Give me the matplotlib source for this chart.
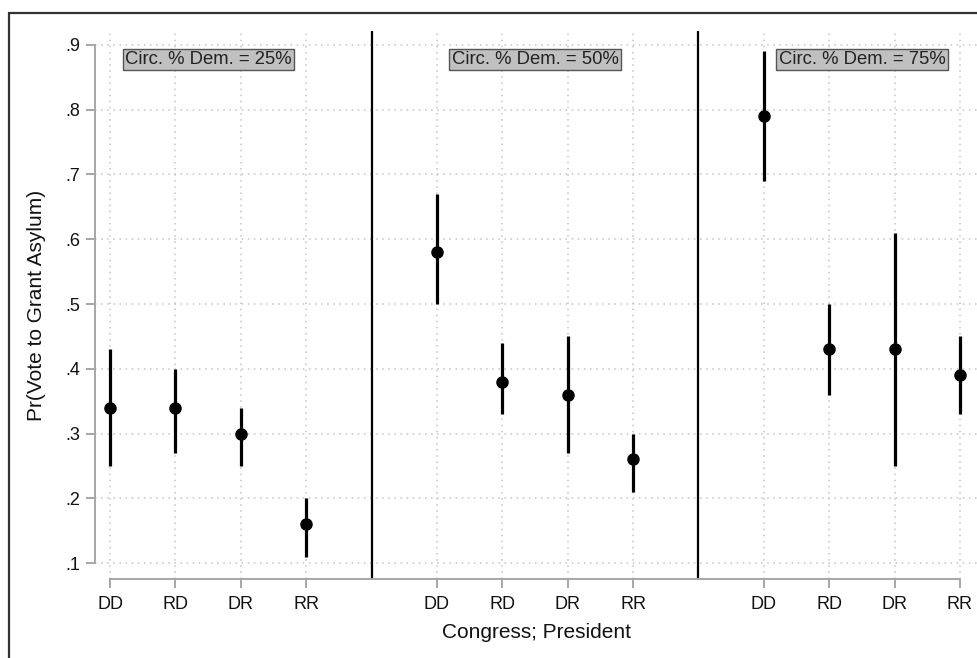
import numpy as np
import matplotlib
matplotlib.use("Agg")
import matplotlib.pyplot as plt
from matplotlib.patches import Rectangle

plt.rcParams["font.family"] = ["Liberation Sans", "DejaVu Sans"]

# categories and panels
cats = ["DD", "RD", "DR", "RR"]
panels = ["Circ. % Dem. = 25%", "Circ. % Dem. = 50%", "Circ. % Dem. = 75%"]

# point estimates and 95% intervals, one list per panel
est_25 = [0.34, 0.34, 0.30, 0.16]
lo_25 = [0.25, 0.27, 0.25, 0.11]
hi_25 = [0.43, 0.40, 0.34, 0.20]

est_50 = [0.58, 0.38, 0.36, 0.26]
lo_50 = [0.50, 0.33, 0.27, 0.21]
hi_50 = [0.67, 0.44, 0.45, 0.30]

est_75 = [0.79, 0.43, 0.43, 0.39]
lo_75 = [0.69, 0.36, 0.25, 0.33]
hi_75 = [0.89, 0.50, 0.61, 0.45]

yticks = [0.1, 0.2, 0.3, 0.4, 0.5, 0.6, 0.7, 0.8, 0.9]
ytick_labels = [".1", ".2", ".3", ".4", ".5", ".6", ".7", ".8", ".9"]

est = [est_25, est_50, est_75]
lo = [lo_25, lo_50, lo_75]
hi = [hi_25, hi_50, hi_75]

fig = plt.figure(figsize=(9.77, 6.58), dpi=100)
ax = fig.add_axes([95 / 977, 1 - 579 / 658, 882 / 977, 548 / 658])

grid_col = "#c4c4c4"
axis_col = "#a6a6a6"

xpos_all = []
for p in range(3):
    xs = np.arange(4) + 1 + 5 * p
    xpos_all.extend(xs)
    e = np.array(est[p])
    ax.vlines(xs, lo[p], hi[p], color="black", lw=2.3, zorder=3)
    ax.plot(xs, e, "o", color="black", ms=8, zorder=4)
    ax.text(xs.mean(), 0.8776, panels[p], ha="center", va="center",
            fontsize=13.3, color="#222222", zorder=5,
            bbox=dict(boxstyle="square,pad=0.12", fc="#c0c0c0",
                      ec="#555555", lw=1.0))

for sep in [5, 10]:
    ax.axvline(sep, color="black", lw=1.6, zorder=2)

ax.set_xlim(1 - 15 / 65.38, 14 + 17 / 65.38)
ax.set_ylim(0.1 - 16 / 648, 0.9 + 14 / 648)

ax.set_xticks(xpos_all)
ax.set_xticklabels(cats * 3, fontsize=13)
ax.set_yticks(yticks)
ax.set_yticklabels(ytick_labels, fontsize=13)

ax.grid(True, color=grid_col, linestyle=(0, (1, 3)), lw=1.1, zorder=0)

for s in ["top", "right"]:
    ax.spines[s].set_visible(False)
ax.spines["left"].set_bounds(0.1, 0.9)
ax.spines["bottom"].set_bounds(1, 14)
for s in ["left", "bottom"]:
    ax.spines[s].set_color(axis_col)
    ax.spines[s].set_linewidth(1.4)
ax.tick_params(axis="both", color=axis_col, width=1.4, length=6.5,
               labelcolor="#111111")
ax.tick_params(axis="y", pad=4)
ax.tick_params(axis="x", pad=6)

ax.set_xlabel("Congress; President", fontsize=15, color="#111111", va="center")
ax.set_ylabel("Pr(Vote to Grant Asylum)", fontsize=15, color="#111111", va="center")
ax.xaxis.set_label_coords(0.5, (579 - 632) / 548)
ax.yaxis.set_label_coords((37 - 95) / 882, 0.5)

# outer frame, cut off on the right and bottom like the source image
fig.patches.append(Rectangle((9 / 977, -0.1), 1.2, 1.1 - 13 / 658,
                             transform=fig.transFigure, fill=False,
                             ec="#333333", lw=1.6, clip_on=False))

fig.savefig("out.png", dpi=100)
